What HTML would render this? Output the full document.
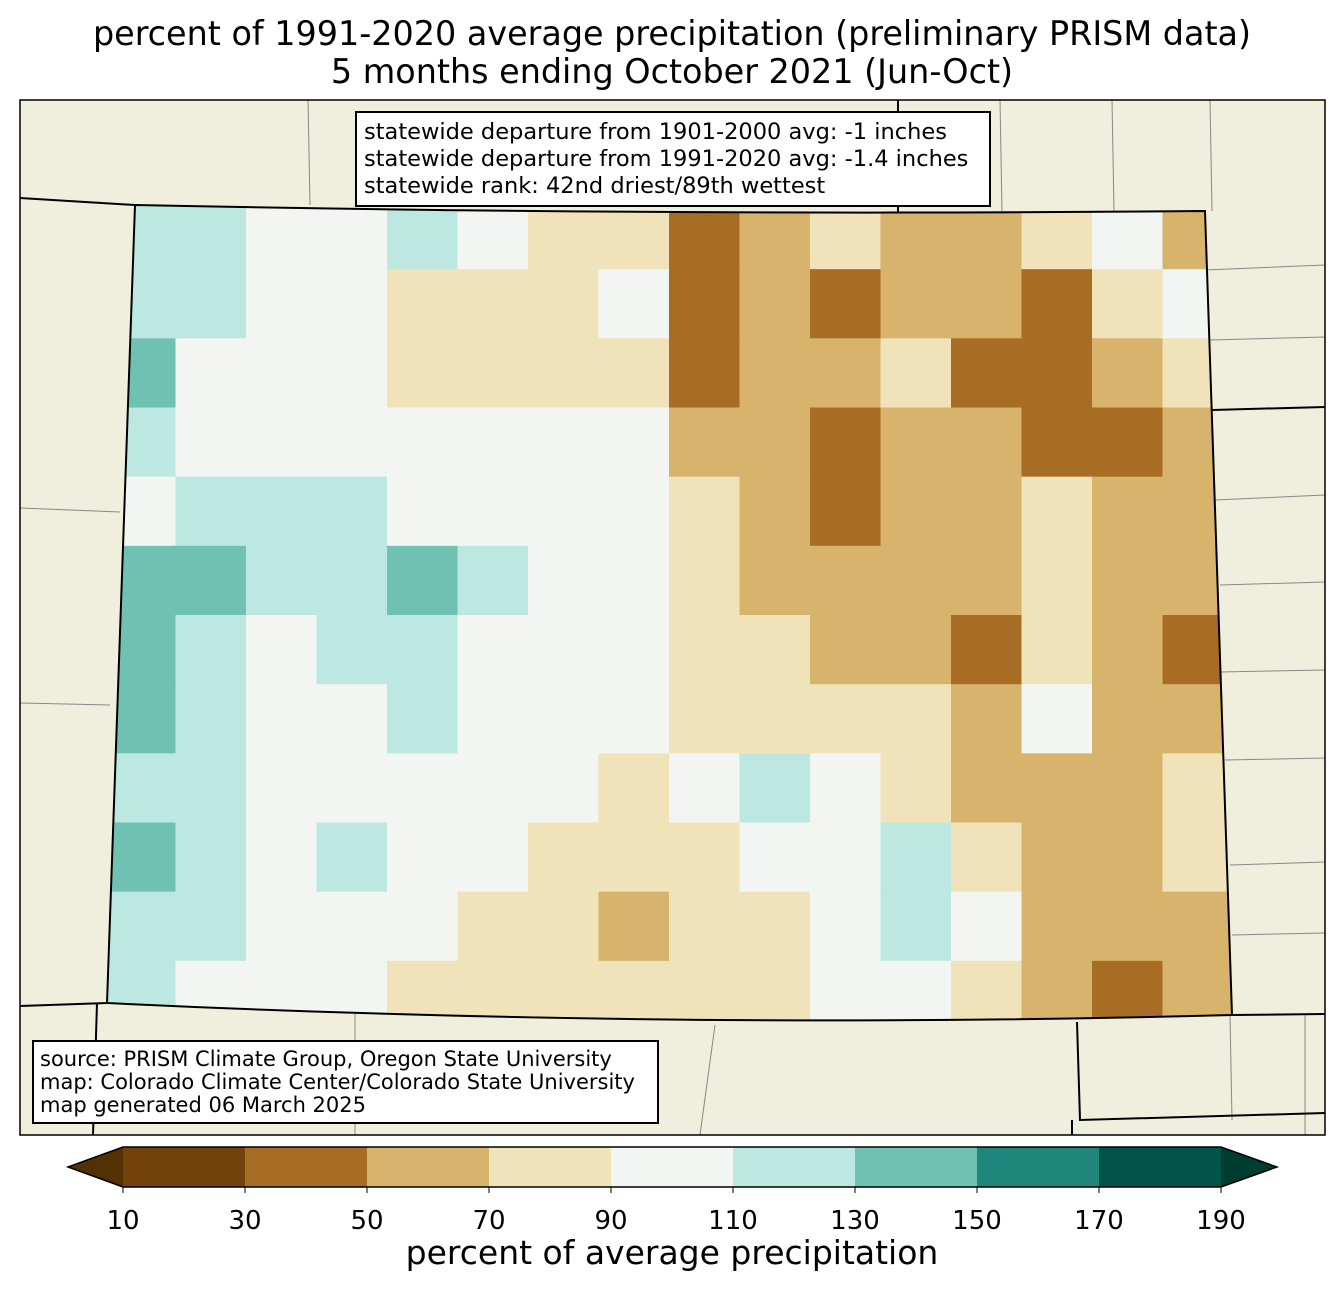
<!DOCTYPE html>
<html><head><meta charset="utf-8"><style>
body{margin:0;background:#fff;}
svg{display:block;font-family:"DejaVu Sans","Liberation Sans",sans-serif;}
</style></head><body>
<svg id="chart" width="1344" height="1299" viewBox="0 0 1344 1299">
<text x="672" y="45" font-size="33.4" text-anchor="middle">percent of 1991-2020 average precipitation (preliminary PRISM data)</text>
<text x="672" y="83" font-size="33.4" text-anchor="middle">5 months ending October 2021 (Jun-Oct)</text>
<defs><clipPath id="co"><path d="M135,205 Q670,216 1205,211 L1232,1015 Q670,1030 107,1003 Z"/></clipPath></defs>
<rect x="20" y="100" width="1305" height="1035" fill="#f0eedc"/>
<g stroke="#888" stroke-width="1" fill="none">
<path d="M20,508 L120,512 M20,703 L110,705 M308,100 L310,205 M1000,100 L1002,211 M1112,100 L1114,211 M1210,100 L1212,211 M1205,270 L1325,265 M1210,340 L1325,337 M1215,500 L1325,495 M1220,585 L1325,582 M1220,672 L1325,670 M1225,760 L1325,758 M1230,865 L1325,862 M1232,935 L1325,933 M1305,1015 L1305,1135 M1230,1015 L1232,1120 M715,1025 L700,1135 M355,1005 L355,1135"/>
</g>
<g id="cells" clip-path="url(#co)"></g>
<path d="M135,205 Q670,216 1205,211 L1232,1015 Q670,1030 107,1003 Z" fill="none" stroke="#000" stroke-width="2"/>
<g stroke="#000" stroke-width="2" fill="none">
<path d="M20,198 L135,205 M898,100 L898,212 M1212,410 L1325,407 M20,1006 L107,1003 M97,1003 L93,1135 M1232,1015 L1325,1014 M1077,1022 L1080,1120 L1325,1113 M1072,1120 L1072,1135"/>
</g>
<rect x="20" y="100" width="1305" height="1035" fill="none" stroke="#000" stroke-width="1.5"/>
<g>
<rect x="356" y="112" width="634" height="94" fill="#fff" stroke="#000" stroke-width="2"/>
<text x="364" y="139" font-size="22.5">statewide departure from 1901-2000 avg: -1 inches</text>
<text x="364" y="166" font-size="22.5">statewide departure from 1991-2020 avg: -1.4 inches</text>
<text x="364" y="193" font-size="22.5">statewide rank: 42nd driest/89th wettest</text>
</g>
<g>
<rect x="33" y="1041" width="625" height="82" fill="#fff" stroke="#000" stroke-width="2"/>
<text x="40" y="1066" font-size="21">source: PRISM Climate Group, Oregon State University</text>
<text x="40" y="1089" font-size="21">map: Colorado Climate Center/Colorado State University</text>
<text x="40" y="1112" font-size="21">map generated 06 March 2025</text>
</g>
<g id="cbar"></g>
<text x="672" y="1264" font-size="33" text-anchor="middle">percent of average precipitation</text>
</svg>
<script>
const levels=[10,30,50,70,90,110,130,150,170,190];
const colors=["#72420a","#a86d24","#d8b36c","#f1e3b9","#f3f5f3","#bde7e1","#6fc1b2","#20867c","#02534a"];
const underColor="#543005", overColor="#003c30";
const gridValues=[
[115,110,100,100,115,95,80,75,40,60,70,60,55,70,90,60],
[120,110,100,100,85,80,80,90,40,60,45,60,55,45,80,90],
[135,105,100,95,85,80,80,70,40,60,60,75,35,30,60,70],
[125,105,100,100,100,105,95,90,60,55,40,65,50,30,35,50],
[105,115,115,115,100,100,100,90,70,60,45,60,60,80,60,60],
[135,135,110,125,135,115,100,90,75,60,60,65,55,70,55,60],
[135,125,105,115,110,105,100,100,80,70,60,55,35,70,60,45],
[135,110,100,105,120,100,100,100,85,75,70,70,60,90,60,65],
[120,110,100,105,105,100,95,85,90,110,95,80,60,65,60,70],
[130,115,100,120,100,95,80,70,85,95,95,120,70,55,65,75],
[125,110,100,95,90,70,80,55,70,75,100,110,100,60,55,55],
[120,105,100,90,85,80,85,80,75,80,100,105,70,50,45,60]];
const NS="http://www.w3.org/2000/svg";
function colorFor(v){if(v<levels[0])return underColor;for(let i=0;i<colors.length;i++)if(v<levels[i+1])return colors[i];return overColor;}
const gx0=105,gx1=1233,gy0=200,gy1=1030;
const rows=gridValues.length, cols=gridValues[0].length;
const cw=(gx1-gx0)/cols, ch=(gy1-gy0)/rows;
const cells=document.getElementById('cells');
gridValues.forEach((row,r)=>row.forEach((v,c)=>{
  const el=document.createElementNS(NS,'rect');
  el.setAttribute('x',gx0+c*cw);el.setAttribute('y',gy0+r*ch);
  el.setAttribute('width',cw+0.6);el.setAttribute('height',ch+0.6);
  el.setAttribute('fill',colorFor(v));
  
  
  cells.appendChild(el);
}));
const cb=document.getElementById('cbar');
const bx0=123,bx1=1221,by=1147,bh=40;
const xs=v=>bx0+(v-levels[0])/(levels[levels.length-1]-levels[0])*(bx1-bx0);
for(let i=0;i<colors.length;i++){
  const el=document.createElementNS(NS,'rect');
  el.setAttribute('x',xs(levels[i]));el.setAttribute('y',by);
  el.setAttribute('width',xs(levels[i+1])-xs(levels[i]));el.setAttribute('height',bh);
  el.setAttribute('fill',colors[i]);
  
  
  cb.appendChild(el);
}
const tl=document.createElementNS(NS,'polygon');
tl.setAttribute('points',`${bx0},${by} 68,${by+bh/2} ${bx0},${by+bh}`);tl.setAttribute('fill',underColor);


cb.appendChild(tl);
const tr=document.createElementNS(NS,'polygon');
tr.setAttribute('points',`${bx1},${by} 1277,${by+bh/2} ${bx1},${by+bh}`);tr.setAttribute('fill',overColor);


cb.appendChild(tr);
const outline=document.createElementNS(NS,'polygon');
outline.setAttribute('points',`68,${by+bh/2} ${bx0},${by} ${bx1},${by} 1277,${by+bh/2} ${bx1},${by+bh} ${bx0},${by+bh}`);
outline.setAttribute('fill','none');outline.setAttribute('stroke','#000');outline.setAttribute('stroke-width','1.5');


cb.appendChild(outline);
levels.forEach(v=>{
  const t=document.createElementNS(NS,'line');
  t.setAttribute('x1',xs(v));t.setAttribute('x2',xs(v));t.setAttribute('y1',by+bh);t.setAttribute('y2',by+bh+6);t.setAttribute('stroke','#000');
  
  
  cb.appendChild(t);
  const tx=document.createElementNS(NS,'text');
  tx.setAttribute('x',xs(v));tx.setAttribute('y',1229);tx.setAttribute('font-size','26');tx.setAttribute('text-anchor','middle');
  tx.textContent=v;
  
  
  cb.appendChild(tx);
});
</script>
</body></html>
